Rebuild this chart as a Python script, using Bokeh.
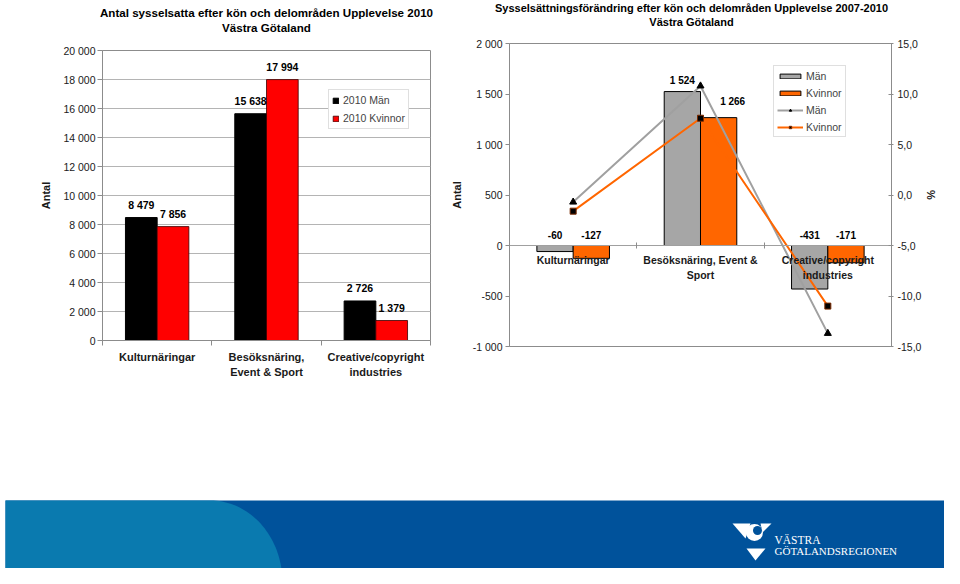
import numpy as np
from bokeh.plotting import figure
from bokeh.models import (Range1d, LinearAxis, FixedTicker, Legend, LegendItem)
from bokeh.layouts import row, column
from bokeh.embed import file_html
from bokeh.resources import INLINE
from bokeh.core.properties import value

FONT = "Liberation Sans"

# ---------------- data ----------------
title_left = ["Antal sysselsatta efter kön och delområden Upplevelse 2010", "Västra Götaland"]
categories_left = ["Kulturnäringar", "Besöksnäring,\nEvent & Sport",
                   "Creative/copyright\nindustries"]
man_2010 = [8479, 15638, 2726]
kvinnor_2010 = [7856, 17994, 1379]
left_ticks = [0, 2000, 4000, 6000, 8000, 10000, 12000, 14000, 16000, 18000, 20000]
left_tick_labels = ["0", "2 000", "4 000", "6 000", "8 000", "10 000",
                    "12 000", "14 000", "16 000", "18 000", "20 000"]

title_right = ["Sysselsättningsförändring efter kön och delområden Upplevelse 2007-2010",
               "Västra Götaland"]
categories_right = ["Kulturnäringar", "Besöksnäring, Event &\nSport",
                    "Creative/copyright\nindustries"]
man_change = [-60, 1524, -431]
kvinnor_change = [-127, 1266, -171]
man_change_pct = [-0.7, 10.8, -13.7]
kvinnor_change_pct = [-1.6, 7.6, -11.0]
right_ticks = [-1000, -500, 0, 500, 1000, 1500, 2000]
right_tick_labels = ["-1 000", "-500", "0", "500", "1 000", "1 500", "2 000"]
pct_ticks = [-15, -10, -5, 0, 5, 10, 15]
pct_tick_labels = ["-15,0", "-10,0", "-5,0", "0,0", "5,0", "10,0", "15,0"]


def fmt(v):
    return f"{v:,}".replace(",", " ")


def style_axis(ax, size="10.5px"):
    ax.major_label_text_font = FONT
    ax.major_label_text_font_size = size
    ax.major_label_text_color = "#1a1a1a"
    ax.axis_line_color = "#8c8c8c"
    ax.major_tick_line_color = "#8c8c8c"
    ax.minor_tick_line_color = "#8c8c8c"
    ax.axis_label_text_font = FONT
    ax.axis_label_text_font_style = "bold"
    ax.axis_label_text_font_size = "11px"
    ax.axis_label_text_color = "#1a1a1a"


def bare(p):
    p.axis.visible = False
    p.grid.visible = False
    p.outline_line_color = None


# ---------------- title strip ----------------
p0 = figure(width=944, height=36, x_range=Range1d(0, 944), y_range=Range1d(36, 0),
            output_backend="svg", toolbar_location=None, min_border=0)
bare(p0)
p0.frame_align = False
p0.text(x=[266, 266], y=[12, 27], text=title_left, text_font=value(FONT),
        text_font_style="bold", text_font_size="11.6px", text_align="center",
        text_baseline="middle", text_color="#000000")
p0.text(x=[691, 691], y=[7.5, 21.5], text=title_right, text_font=value(FONT),
        text_font_style="bold", text_font_size="11px", text_align="center",
        text_baseline="middle", text_color="#000000")

# ---------------- left chart ----------------
n1 = len(categories_left)
xc1 = np.arange(n1) + 0.5
bw = 0.29

p1 = figure(width=445, height=356, x_range=Range1d(0, n1), y_range=Range1d(0, 20000),
            output_backend="svg", toolbar_location=None,
            min_border_left=102, min_border_right=15, min_border_top=14,
            min_border_bottom=52)
p1.frame_align = False
p1.outline_line_color = "#8c8c8c"

r_m = p1.vbar(x=xc1 - bw / 2, width=bw, top=man_2010, bottom=0,
              fill_color="#000000", line_color="#000000")
r_k = p1.vbar(x=xc1 + bw / 2, width=bw, top=kvinnor_2010, bottom=0,
              fill_color="#ff0000", line_color="#3a0000", line_width=0.8)
p1.text(x=xc1 - bw / 2, y=man_2010, text=[fmt(v) for v in man_2010],
        text_font=value(FONT), text_font_style="bold", text_font_size="10.5px",
        text_align="center", text_baseline="middle", y_offset=-13, text_color="#000000")
p1.text(x=xc1 + bw / 2, y=kvinnor_2010, text=[fmt(v) for v in kvinnor_2010],
        text_font=value(FONT), text_font_style="bold", text_font_size="10.5px",
        text_align="center", text_baseline="middle", y_offset=-13, text_color="#000000")

p1.yaxis.ticker = FixedTicker(ticks=left_ticks)
p1.yaxis.major_label_overrides = dict(zip(left_ticks, left_tick_labels))
p1.yaxis.minor_tick_line_color = None
p1.yaxis.major_tick_out = 5
p1.yaxis.major_tick_in = 0
p1.yaxis.major_label_standoff = 2
p1.yaxis.axis_label = "Antal"
p1.yaxis.axis_label_standoff = 8
style_axis(p1.yaxis[0])

p1.xaxis.ticker = FixedTicker(ticks=list(xc1), minor_ticks=list(range(n1 + 1)))
p1.xaxis.major_label_overrides = {float(x): c for x, c in zip(xc1, categories_left)}
style_axis(p1.xaxis[0], "11px")
p1.xaxis.major_label_text_font_style = "bold"
p1.xaxis.major_label_text_line_height = 1.3
p1.xaxis.major_tick_line_color = None
p1.xaxis.major_tick_out = 0
p1.xaxis.major_tick_in = 0
p1.xaxis.minor_tick_out = 5
p1.xaxis.minor_tick_in = 0
p1.xaxis.major_label_standoff = 5

p1.xgrid.visible = False
p1.ygrid.ticker = FixedTicker(ticks=left_ticks)
p1.ygrid.grid_line_color = "#b4b4b4"

leg1 = Legend(items=[LegendItem(label="2010 Män", renderers=[r_m]),
                     LegendItem(label="2010 Kvinnor", renderers=[r_k])],
              location=(226, 211))
leg1.border_line_color = "#c0c0c0"
leg1.background_fill_color = "white"
leg1.background_fill_alpha = 1
leg1.padding = 3
leg1.margin = 0
leg1.spacing = 4
leg1.label_height = 14
leg1.glyph_height = 7
leg1.glyph_width = 7
leg1.label_standoff = 4
leg1.label_text_font = FONT
leg1.label_text_font_size = "10.5px"
p1.add_layout(leg1)

# ---------------- right chart ----------------
n2 = len(categories_right)
xc2 = np.arange(n2) + 0.5
bw2 = 0.285

p2 = figure(width=499, height=356, x_range=Range1d(0, n2), y_range=Range1d(-1000, 2000),
            output_backend="svg", toolbar_location=None,
            min_border_left=64, min_border_right=53, min_border_top=7,
            min_border_bottom=46)
p2.frame_align = False
p2.extra_y_ranges = {"pct": Range1d(-15, 15)}
p2.outline_line_color = "#8c8c8c"
p2.xgrid.visible = False
p2.ygrid.visible = False

b_m = p2.vbar(x=xc2 - bw2 / 2, width=bw2, top=man_change, bottom=0,
              fill_color="#a6a6a6", line_color="#000000", line_width=1)
b_k = p2.vbar(x=xc2 + bw2 / 2, width=bw2, top=kvinnor_change, bottom=0,
              fill_color="#ff6600", line_color="#000000", line_width=1)
p2.text(x=xc2 - bw2 / 2, y=[max(v, 0) for v in man_change], text=[fmt(v) for v in man_change],
        text_font=value(FONT), text_font_style="bold", text_font_size="10px",
        text_align="center", text_baseline="middle", y_offset=-11, text_color="#000000")
p2.text(x=xc2 + bw2 / 2, y=[max(v, 0) for v in kvinnor_change],
        text=[fmt(v) for v in kvinnor_change], x_offset=[0, 14, 0],
        text_font=value(FONT), text_font_style="bold", text_font_size="10px",
        text_align="center", text_baseline="middle", y_offset=[-11, -16, -11],
        text_color="#000000")

l_m = p2.line(x=xc2, y=man_change_pct, y_range_name="pct", line_color="#a0a0a0", line_width=2)
s_m = p2.scatter(x=xc2, y=man_change_pct, y_range_name="pct", marker="triangle", size=7,
                 fill_color="#000000", line_color="#000000")
l_k = p2.line(x=xc2, y=kvinnor_change_pct, y_range_name="pct", line_color="#ff6600", line_width=2)
s_k = p2.scatter(x=xc2, y=kvinnor_change_pct, y_range_name="pct", marker="square", size=6,
                 fill_color="#000000", line_color="#7a2a00")

p2.yaxis.ticker = FixedTicker(ticks=right_ticks)
p2.yaxis.major_label_overrides = dict(zip(right_ticks, right_tick_labels))
p2.yaxis.minor_tick_line_color = None
p2.yaxis.major_tick_out = 4
p2.yaxis.major_tick_in = 0
p2.yaxis.major_label_standoff = 3
p2.yaxis.axis_label = "Antal"
p2.yaxis.axis_label_standoff = 7
style_axis(p2.yaxis[0])

pax = LinearAxis(y_range_name="pct", ticker=FixedTicker(ticks=pct_ticks),
                 major_label_overrides=dict(zip(pct_ticks, pct_tick_labels)),
                 axis_label="%")
style_axis(pax)
pax.minor_tick_line_color = None
pax.major_tick_out = 2
pax.major_tick_in = 3
pax.major_label_standoff = 4
pax.axis_label_standoff = 1
p2.add_layout(pax, "right")

p2.xaxis.fixed_location = 0
p2.xaxis.ticker = FixedTicker(ticks=list(xc2), minor_ticks=list(range(n2 + 1)))
p2.xaxis.major_label_overrides = {float(x): c for x, c in zip(xc2, categories_right)}
style_axis(p2.xaxis[0], "10.5px")
p2.xaxis.axis_line_color = "#a0a0a0"
p2.xaxis.major_label_text_font_style = "bold"
p2.xaxis.major_label_text_line_height = 1.25
p2.xaxis.major_tick_line_color = None
p2.xaxis.major_tick_out = 0
p2.xaxis.major_tick_in = 0
p2.xaxis.minor_tick_out = 3
p2.xaxis.minor_tick_in = 3
p2.xaxis.major_label_standoff = 5

leg2 = Legend(items=[LegendItem(label="Män", renderers=[b_m]),
                     LegendItem(label="Kvinnor", renderers=[b_k]),
                     LegendItem(label="Män", renderers=[l_m, s_m]),
                     LegendItem(label="Kvinnor", renderers=[l_k, s_k])],
              location=(264, 209))
leg2.border_line_color = "#c0c0c0"
leg2.background_fill_color = "white"
leg2.background_fill_alpha = 1
leg2.padding = 3
leg2.margin = 0
leg2.spacing = 4
leg2.label_height = 13
leg2.glyph_height = 6
leg2.glyph_width = 26
leg2.label_standoff = 3
leg2.label_text_font = FONT
leg2.label_text_font_size = "10.5px"
p2.add_layout(leg2)

# ---------------- footer band (decoration) ----------------
p3 = figure(width=944, height=176, x_range=Range1d(0, 944), y_range=Range1d(568, 392),
            output_backend="svg", toolbar_location=None, min_border=0)
bare(p3)
p3.frame_align = False

p3.quad(left=5, right=954, top=500, bottom=582, fill_color="#00529b", line_color=None)
t = np.linspace(0, np.pi / 2, 40)
arc_x = list(210 + 72 * np.sin(t))
arc_y = list(582 - 82 * np.cos(t))
p3.patch(x=[5] + arc_x + [5], y=[500] + arc_y + [582], fill_color="#0a7aaf", line_color=None)

# logo
p3.patch(x=[732, 750, 745], y=[523, 523, 538], fill_color="white", line_color=None)
p3.patch(x=[760, 771, 762], y=[523, 523, 532], fill_color="white", line_color=None)
p3.patch(x=[746, 765, 755], y=[548, 548, 560], fill_color="white", line_color=None)
p3.circle(x=[754], y=[532], radius=8.5, fill_color="white", line_color=None)
p3.circle(x=[757], y=[530], radius=4.5, fill_color="#00529b", line_color=None)
p3.text(x=[774], y=[539], text=["VÄSTRA"], text_font=value("Liberation Serif"),
        text_font_size="11.5px", text_color="white", text_baseline="alphabetic")
p3.text(x=[774], y=[550], text=["GÖTALANDSREGIONEN"], text_font=value("Liberation Serif"),
        text_font_size="11px", text_color="white", text_baseline="alphabetic")

layout = column(p0, row(p1, p2), p3)
open("out.html", "w").write(file_html(layout, INLINE))
